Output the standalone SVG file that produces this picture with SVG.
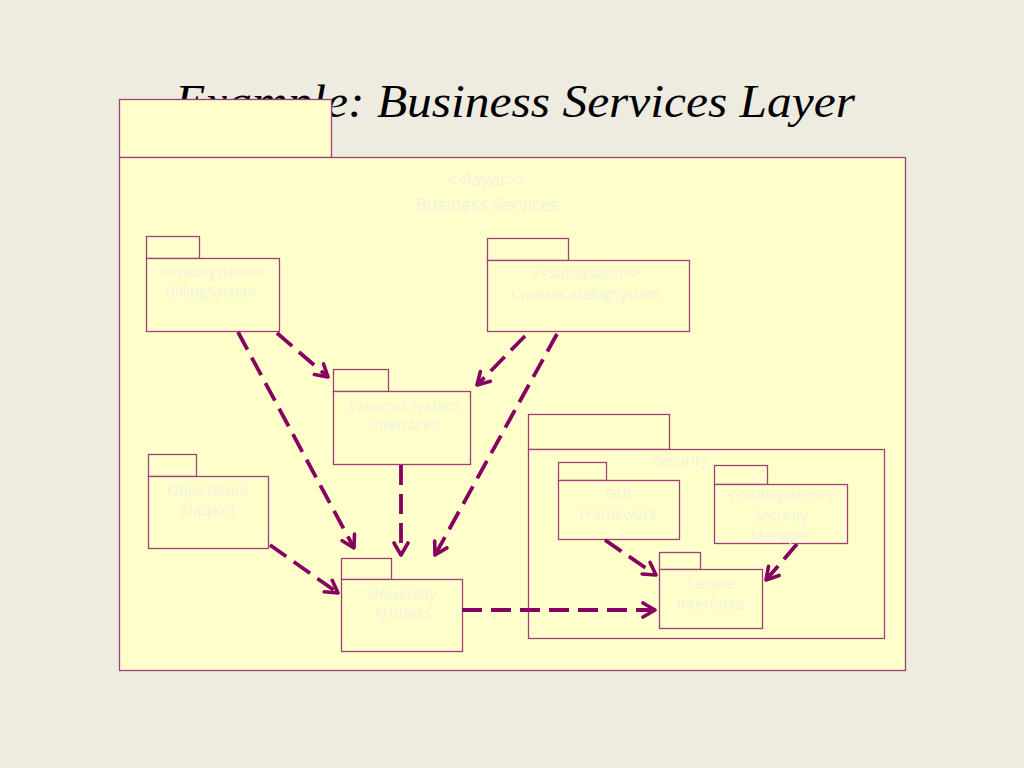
<svg xmlns="http://www.w3.org/2000/svg" width="1024" height="768" viewBox="0 0 1024 768">
<defs>
<style>
.pkg{fill:#FFFFCC;stroke:#A0407A;stroke-width:1.3}
.lbl{font-family:"Open Sans","Noto Sans",sans-serif;font-size:14.8px;fill:#F2F2DC;text-anchor:middle}
.big{font-size:17.5px}
.dep{fill:none;stroke:#850060;stroke-width:3.8;stroke-dasharray:20 9;marker-end:url(#open)}
.title{font-family:"Liberation Serif","DejaVu Serif",serif;font-style:italic;font-size:46px;fill:#000;text-anchor:middle}
</style>
<marker id="open" viewBox="0 0 16 18" refX="14" refY="9" markerWidth="16" markerHeight="18" markerUnits="userSpaceOnUse" orient="auto">
<path d="M2,2 L14,9 L2,16" fill="none" stroke="#850060" stroke-width="3.6" stroke-linecap="round" stroke-linejoin="round"/>
</marker>
</defs>
<rect width="1024" height="768" fill="#EEEBE1"/>
<text class="title" x="515" y="117" textLength="680" lengthAdjust="spacingAndGlyphs">Example: Business Services Layer</text>

<g id="layer-business-services">
<rect class="pkg" x="119.5" y="99.5" width="212" height="58"/>
<rect class="pkg" x="119.5" y="157.5" width="786" height="513"/>
<text class="lbl big" x="487" y="186">&lt;&lt;layer&gt;&gt;</text>
<text class="lbl big" x="487" y="211">Business Services</text>
</g>

<g id="billing-system">
<rect class="pkg" x="146.5" y="236.5" width="53" height="22"/>
<rect class="pkg" x="146.5" y="258.5" width="133" height="73"/>
<text class="lbl" x="213" y="277">&lt;&lt;subsystem&gt;&gt;</text>
<text class="lbl" x="211" y="297">BillingSystem</text>
</g>

<g id="course-catalog-system">
<rect class="pkg" x="487.5" y="238.5" width="81" height="22"/>
<rect class="pkg" x="487.5" y="260.5" width="202" height="71"/>
<text class="lbl" x="586" y="278">&lt;&lt;subsystem&gt;&gt;</text>
<text class="lbl" x="586" y="299">CourseCatalogSystem</text>
</g>

<g id="external-system-interfaces">
<rect class="pkg" x="333.5" y="369.5" width="55" height="22"/>
<rect class="pkg" x="333.5" y="391.5" width="137" height="73"/>
<text class="lbl" x="404" y="411">External System</text>
<text class="lbl" x="404" y="430">Interfaces</text>
</g>

<g id="security">
<rect class="pkg" x="528.5" y="414.5" width="141" height="35"/>
<rect class="pkg" x="528.5" y="449.5" width="356" height="189"/>
<text class="lbl" x="680" y="466">Security</text>
</g>

<g id="gui-framework">
<rect class="pkg" x="558.5" y="462.5" width="48" height="18"/>
<rect class="pkg" x="558.5" y="480.5" width="121" height="59"/>
<text class="lbl" x="618" y="499">GUI</text>
<text class="lbl" x="618" y="519">Framework</text>
</g>

<g id="security-manager">
<rect class="pkg" x="714.5" y="465.5" width="53" height="19"/>
<rect class="pkg" x="714.5" y="484.5" width="133" height="59"/>
<text class="lbl" x="781" y="500">&lt;&lt;subsystem&gt;&gt;</text>
<text class="lbl" x="781" y="521">Security</text>
<text class="lbl" x="781" y="541">Manager</text>
</g>

<g id="secure-interfaces">
<rect class="pkg" x="659.5" y="552.5" width="41" height="17"/>
<rect class="pkg" x="659.5" y="569.5" width="103" height="59"/>
<text class="lbl" x="711" y="589">Secure</text>
<text class="lbl" x="711" y="609">Interfaces</text>
</g>

<g id="objectstore-support">
<rect class="pkg" x="148.5" y="454.5" width="48" height="22"/>
<rect class="pkg" x="148.5" y="476.5" width="120" height="72"/>
<text class="lbl" x="208" y="495">ObjectStore</text>
<text class="lbl" x="208" y="515">Support</text>
</g>

<g id="university-artifacts">
<rect class="pkg" x="341.5" y="558.5" width="50" height="21"/>
<rect class="pkg" x="341.5" y="579.5" width="121" height="72"/>
<text class="lbl" x="402" y="599">University</text>
<text class="lbl" x="402" y="618">Artifacts</text>
</g>

<g id="connectors">
<line class="dep" x1="277" y1="333" x2="328" y2="377"/>
<line class="dep" x1="238" y1="332" x2="354" y2="548"/>
<line class="dep" x1="525" y1="336" x2="477" y2="385"/>
<line class="dep" x1="557" y1="334" x2="435" y2="555"/>
<line class="dep" x1="401" y1="465" x2="401" y2="555"/>
<line class="dep" x1="270" y1="545" x2="338" y2="593"/>
<line class="dep" x1="462" y1="610" x2="655" y2="610"/>
<line class="dep" x1="605" y1="540" x2="656" y2="575"/>
<line class="dep" x1="797" y1="544" x2="766" y2="580"/>
</g>
</svg>
